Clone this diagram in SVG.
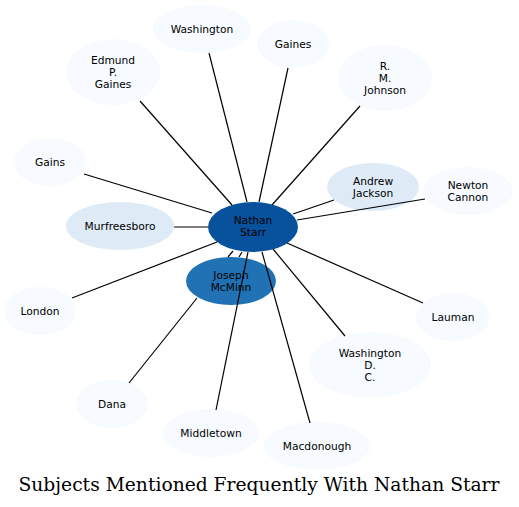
<svg xmlns="http://www.w3.org/2000/svg" width="519" height="507" viewBox="0 0 519 507">
<style>
.n text{font-family:"DejaVu Sans",sans-serif;font-size:10.67px;text-anchor:middle;fill:#000}
.l0{fill:#f7fbff}
.l1{fill:#deebf7}
.l2{fill:#2171b5}
.l3{fill:#08519c}
#edges path{stroke:#000;stroke-width:1.2;fill:none}
.title{font-family:"DejaVu Serif",serif;font-size:18.7px;text-anchor:middle;fill:#000}
</style>
<rect width="519" height="507" fill="#fff"/>
<g class="n" id="node-washington"><ellipse class="l0" cx="202" cy="29" rx="49" ry="24"/><text x="202" y="32.5">Washington</text></g>
<g class="n" id="node-gaines"><ellipse class="l0" cx="293" cy="44" rx="36" ry="24"/><text x="293" y="47.5">Gaines</text></g>
<g class="n" id="node-edmund"><ellipse class="l0" cx="113" cy="72" rx="47" ry="33"/><text x="113" y="63.5">Edmund</text><text x="113" y="75.5">P.</text><text x="113" y="87.5">Gaines</text></g>
<g class="n" id="node-johnson"><ellipse class="l0" cx="385" cy="78" rx="47" ry="33"/><text x="385" y="69.5">R.</text><text x="385" y="81.5">M.</text><text x="385" y="93.5">Johnson</text></g>
<g class="n" id="node-gains"><ellipse class="l0" cx="50" cy="162" rx="36" ry="24"/><text x="50" y="165.5">Gains</text></g>
<g class="n" id="node-jackson"><ellipse class="l1" cx="373" cy="187" rx="46" ry="24"/><text x="373" y="184.5">Andrew</text><text x="373" y="196.5">Jackson</text></g>
<g class="n" id="node-cannon"><ellipse class="l0" cx="468" cy="191" rx="45" ry="24"/><text x="468" y="188.5">Newton</text><text x="468" y="200.5">Cannon</text></g>
<g class="n" id="node-murfreesboro"><ellipse class="l1" cx="120" cy="226" rx="54" ry="24"/><text x="120" y="229.5">Murfreesboro</text></g>
<g class="n" id="node-starr"><ellipse class="l3" cx="253" cy="227" rx="45" ry="25"/><text x="253" y="224">Nathan</text><text x="253" y="236">Starr</text></g>
<g class="n" id="node-mcminn"><ellipse class="l2" cx="231" cy="281" rx="45" ry="24"/><text x="231" y="278.5">Joseph</text><text x="231" y="290.5">McMinn</text></g>
<g class="n" id="node-london"><ellipse class="l0" cx="40" cy="311" rx="36" ry="24"/><text x="40" y="314.5">London</text></g>
<g class="n" id="node-lauman"><ellipse class="l0" cx="453" cy="317" rx="37" ry="24"/><text x="453" y="320.5">Lauman</text></g>
<g class="n" id="node-dc"><ellipse class="l0" cx="370" cy="365" rx="61" ry="33"/><text x="370" y="356.5">Washington</text><text x="370" y="368.5">D.</text><text x="370" y="380.5">C.</text></g>
<g class="n" id="node-dana"><ellipse class="l0" cx="112" cy="404" rx="36" ry="24"/><text x="112" y="407.5">Dana</text></g>
<g class="n" id="node-middletown"><ellipse class="l0" cx="211" cy="433" rx="48" ry="24"/><text x="211" y="436.5">Middletown</text></g>
<g class="n" id="node-macdonough"><ellipse class="l0" cx="317" cy="446" rx="53" ry="24"/><text x="317" y="449.5">Macdonough</text></g>
<g id="edges">
<path d="M247,202 L209,53"/>
<path d="M259,202 L288,68"/>
<path d="M232,205 L140,101"/>
<path d="M272,205 L360,106"/>
<path d="M212,213 L84,174"/>
<path d="M293,214 L334,200"/>
<path d="M297,220 L425,199"/>
<path d="M208,227 L174,227"/>
<path d="M217,242 L72,298"/>
<path d="M287,243 L423,303"/>
<path d="M273,249 L345,336"/>
<path d="M233,251 L228,257 M197,298 L129,383"/>
<path d="M242,252 L239,257"/>
<path d="M248,252 L216,410"/>
<path d="M262,252 L310,423"/>
</g>
<text class="title" x="259" y="491">Subjects Mentioned Frequently With Nathan Starr</text>
</svg>
